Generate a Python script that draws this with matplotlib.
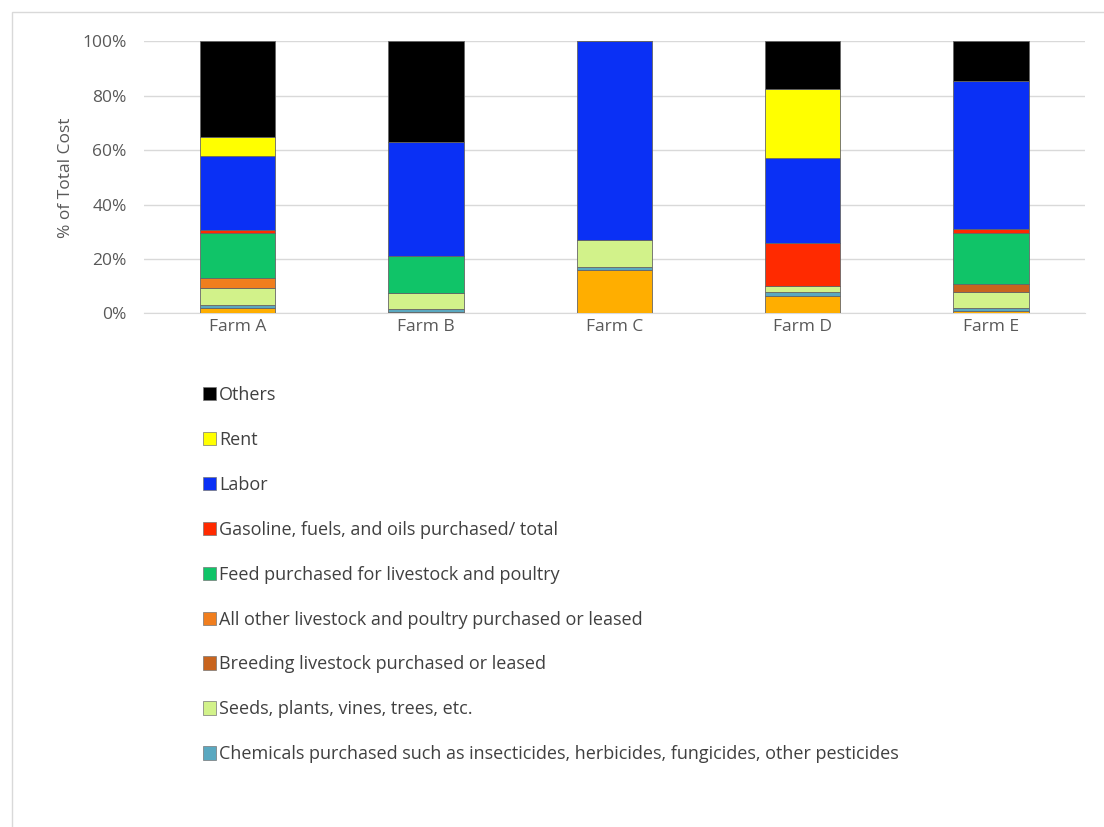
import matplotlib.pyplot as plt
import matplotlib.patches as mpatches
from matplotlib.ticker import PercentFormatter

plt.rcParams['font.family'] = ['Open Sans', 'DejaVu Sans']

farms = ['Farm A', 'Farm B', 'Farm C', 'Farm D', 'Farm E']

# % of total cost, stacked bottom -> top
unlabeled = [2, 0.5, 16, 6.5, 1]      # bottom series, its legend entry is cut off
chemicals = [1, 1, 1, 1.5, 1]
seeds = [6.5, 6, 10, 2, 6]
breeding = [0, 0, 0, 0, 3]
all_other = [3.5, 0, 0, 0, 0]
feed = [16.5, 13.5, 0, 0, 18.5]
gasoline = [1, 0, 0, 16, 1.5]
labor = [27.5, 42, 73, 31, 54.5]
rent = [7, 0, 0, 25.5, 0]
others = [35, 37, 0, 17.5, 14.5]

series = [
    ('_nolegend_', unlabeled, '#FFAE00'),
    ('Chemicals purchased such as insecticides, herbicides, fungicides, other pesticides', chemicals, '#5AA8C0'),
    ('Seeds, plants, vines, trees, etc.', seeds, '#D2F28A'),
    ('Breeding livestock purchased or leased', breeding, '#C8641E'),
    ('All other livestock and poultry purchased or leased', all_other, '#F07E1E'),
    ('Feed purchased for livestock and poultry', feed, '#10C468'),
    ('Gasoline, fuels, and oils purchased/ total', gasoline, '#FF2A00'),
    ('Labor', labor, '#0A30F5'),
    ('Rent', rent, '#FFFF00'),
    ('Others', others, '#000000'),
]

fig = plt.figure(figsize=(11.04, 8.27), dpi=100)
ax = fig.add_axes([0.130, 0.621, 0.853, 0.329])

x = range(len(farms))
bottom = [0] * len(farms)
handles = []
for name, vals, col in series:
    ax.bar(x, vals, width=0.4, bottom=bottom, color=col, edgecolor='#666666', linewidth=0.6, zorder=3)
    bottom = [b + v for b, v in zip(bottom, vals)]
    if name != '_nolegend_':
        handles.append(mpatches.Patch(facecolor=col, edgecolor='#777777', linewidth=0.5, label=name))

ax.set_ylim(0, 100)
ax.set_xlim(-0.5, 4.5)
ax.set_xticks(list(x))
ax.set_xticklabels(farms)
ax.set_yticks([0, 20, 40, 60, 80, 100])
ax.yaxis.set_major_formatter(PercentFormatter(decimals=0))
ax.grid(axis='y', color='#D9D9D9', linewidth=1, zorder=0)
ax.tick_params(length=0, labelsize=12.5, colors='#595959')
ax.tick_params(axis='y', pad=12)
ax.tick_params(axis='x', pad=4)
for s in ['top', 'right', 'left']:
    ax.spines[s].set_visible(False)
ax.spines['bottom'].set_color('#D9D9D9')
ax.set_ylabel('% of Total Cost', fontsize=12.5, color='#595959', labelpad=6)

# Excel legend lists the top series first
handles = handles[::-1]
fig.legend(handles=handles, loc='upper left', bbox_to_anchor=(0.177, 0.542),
           frameon=False, fontsize=13, labelcolor='#404040',
           handlelength=0.75, handleheight=0.75, handletextpad=0.15,
           labelspacing=1.49, borderaxespad=0)

# chart frame
fig.patches.append(mpatches.Rectangle((0.011, -0.1), 1.2, 1.085, transform=fig.transFigure,
                                      fill=False, edgecolor='#D9D9D9', linewidth=1))

plt.savefig('out.png', dpi=100)
